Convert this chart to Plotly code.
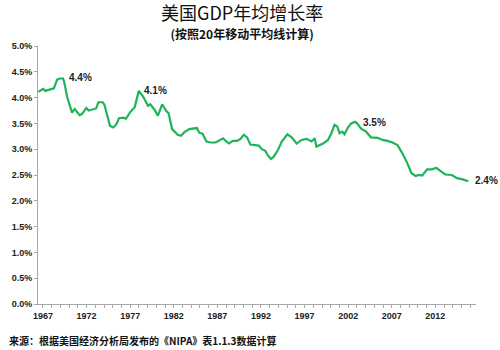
import plotly.graph_objects as go

years = [1966.47, 1967.03, 1967.26, 1967.68, 1968.25, 1968.63, 1968.93, 1969.31, 1969.44, 1969.76,
         1970.33, 1970.64, 1971.20, 1971.47, 1971.97, 1972.23, 1972.42, 1973.10, 1973.36, 1973.85,
         1974.05, 1974.69, 1975.07, 1975.44, 1975.72, 1976.20, 1976.51, 1976.97, 1977.53, 1977.99,
         1978.48, 1979.05, 1979.31, 1979.81, 1980.18, 1980.67, 1981.13, 1981.40, 1981.81, 1982.45,
         1982.83, 1983.22, 1983.78, 1984.16, 1984.65, 1984.92, 1985.30, 1985.75, 1986.24, 1986.81,
         1987.11, 1987.65, 1988.02, 1988.33, 1988.78, 1989.27, 1989.65, 1990.03, 1990.41, 1990.78,
         1991.35, 1991.74, 1992.11, 1992.49, 1992.76, 1993.14, 1993.44, 1993.93, 1994.39, 1995.03,
         1995.52, 1996.09, 1996.66, 1997.23, 1997.80, 1998.17, 1998.36, 1999.13, 1999.69, 2000.07,
         2000.44, 2000.75, 2001.01, 2001.32, 2001.58, 2001.97, 2002.34, 2002.80, 2003.02, 2003.48,
         2004.05, 2004.61, 2005.38, 2005.94, 2006.51, 2007.08, 2007.65, 2008.22, 2008.78, 2009.24,
         2009.73, 2010.10, 2010.49, 2011.06, 2011.63, 2012.11, 2012.57, 2013.14, 2013.90, 2014.47,
         2015.03, 2015.41, 2015.78]
growth = [4.11, 4.17, 4.13, 4.15, 4.18, 4.35, 4.37, 4.37, 4.30, 4.02,
          3.71, 3.78, 3.66, 3.68, 3.80, 3.75, 3.76, 3.79, 3.91, 3.91,
          3.86, 3.45, 3.42, 3.49, 3.60, 3.61, 3.59, 3.71, 3.82, 4.13,
          4.02, 3.84, 3.87, 3.76, 3.65, 3.87, 3.74, 3.70, 3.39, 3.28,
          3.26, 3.33, 3.39, 3.40, 3.41, 3.32, 3.30, 3.15, 3.13, 3.13,
          3.16, 3.21, 3.15, 3.11, 3.16, 3.16, 3.20, 3.28, 3.23, 3.09,
          3.08, 3.07, 3.00, 2.97, 2.89, 2.81, 2.85, 2.98, 3.15, 3.29,
          3.23, 3.11, 3.18, 3.20, 3.15, 3.21, 3.05, 3.11, 3.18, 3.31,
          3.47, 3.44, 3.31, 3.34, 3.29, 3.42, 3.50, 3.53, 3.50, 3.40,
          3.34, 3.23, 3.22, 3.18, 3.16, 3.13, 3.08, 2.92, 2.73, 2.54,
          2.48, 2.50, 2.49, 2.61, 2.61, 2.64, 2.58, 2.51, 2.50, 2.44,
          2.42, 2.40, 2.38]

label_years = [1969.7, 1978.35, 2003.45, 2016.3]
label_vals = [4.38, 4.13, 3.51, 2.39]
label_texts = ["4.4%", "4.1%", "3.5%", "2.4%"]

xtick_vals = [1967, 1972, 1977, 1982, 1987, 1992, 1997, 2002, 2007, 2012]
xtick_text = [str(v) for v in xtick_vals]
ytick_vals = [0, 0.5, 1, 1.5, 2, 2.5, 3, 3.5, 4, 4.5, 5]
ytick_text = ["0.0%", "0.5%", "1.0%", "1.5%", "2.0%", "2.5%", "3.0%", "3.5%", "4.0%", "4.5%", "5.0%"]

title_text = "美国GDP年均增长率"
subtitle_text = "(按照20年移动平均线计算)"
source_text = "来源：根据美国经济分析局发布的《NIPA》表1.1.3数据计算"

CJK = "Noto Sans CJK SC"
NUM = "Liberation Sans"

# plot area in pixels: left 34, right 476, top 46, bottom 304
L, R, T, B = 34, 476, 46, 304
def px(x):
    return (x - L) / (R - L)
def py(y):
    return (B - y) / (B - T)

fig = go.Figure()
fig.add_trace(go.Scatter(x=years, y=growth, mode="lines",
                         line=dict(color="#1EB45A", width=2.2), hoverinfo="skip"))

for xv, yv, t in zip(label_years, label_vals, label_texts):
    fig.add_annotation(x=xv, y=yv, text=t, showarrow=False, xanchor="left", yanchor="middle",
                       font=dict(family=NUM, size=10, color="#222222", weight="bold"))

heading = ("<span style='font-size:18px'>" + title_text + "</span><br>"
           "<span style='font-size:12px;font-weight:bold'>" + subtitle_text + "</span>")
fig.add_annotation(x=px(240), y=py(20), xref="paper", yref="paper",
                   text=heading, showarrow=False, xanchor="center", yanchor="middle",
                   align="center", borderpad=0,
                   font=dict(family=CJK, size=14.6, color="#111111"))
fig.add_annotation(x=px(3), y=py(340), xref="paper", yref="paper",
                   text=source_text, showarrow=False, xanchor="left", yanchor="middle",
                   font=dict(family=CJK, size=10, color="#111111", weight="bold"))

fig.update_layout(
    width=500, height=350,
    margin=dict(l=L, r=500 - R, t=T, b=350 - B),
    paper_bgcolor="white", plot_bgcolor="white",
    showlegend=False,
    xaxis=dict(range=[1966.43, 2016.66], tickmode="array", tickvals=xtick_vals, ticktext=xtick_text,
               showgrid=False, zeroline=False, showline=True, linecolor="#A6A6A6", linewidth=1,
               ticks="outside", ticklen=3, tickcolor="#A6A6A6",
               minor=dict(dtick=1, tick0=1967, ticks="outside", ticklen=3, tickcolor="#A6A6A6", showgrid=False),
               tickfont=dict(family=NUM, size=9, color="#222222", weight="bold")),
    yaxis=dict(range=[0, 5], tickmode="array", tickvals=ytick_vals, ticktext=ytick_text,
               showgrid=False, zeroline=False, showline=True, linecolor="#A6A6A6", linewidth=1,
               ticks="outside", ticklen=3, tickcolor="#A6A6A6",
               tickfont=dict(family=NUM, size=9, color="#222222", weight="bold")),
)

fig.write_html("out.html")
